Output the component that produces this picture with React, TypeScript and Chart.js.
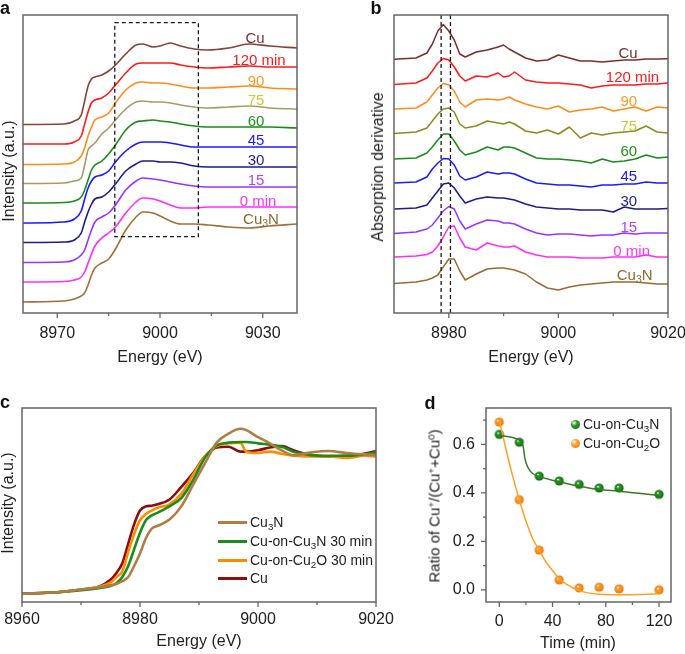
import React, { useEffect, useRef } from "react";
import { Chart, registerables } from "chart.js";
Chart.register(...registerables);

const W = 685;
const H = 654;
const XH = 40;
const FONT = "'Liberation Sans', Arial, Helvetica, sans-serif";

// ---------- Panel a : XANES spectra (stacked, a.u.) ----------
const aEnergy = [8960, 8972, 8975, 8977, 8978, 8979, 8980, 8981, 8983, 8985, 8987, 8990, 8993, 8995, 8998, 9000, 9003, 9006, 9010, 9014, 9020, 9026, 9032, 9040];
const aCu = [188.5, 189, 192, 198, 212, 227, 234, 236, 238, 242, 248, 259, 268, 269, 266, 267, 270, 267, 264, 263, 265, 269, 267, 265];
const a120 = [169, 169, 171, 177, 189, 201, 210, 213, 215, 220, 228, 240, 249, 250, 250, 250, 250, 248, 246, 245, 246, 247, 246, 246];
const a90 = [148.5, 149, 151, 157, 165, 177, 186, 193, 196, 200, 210, 223, 230, 231, 230, 230, 229, 227, 225, 225, 226, 227, 225, 224];
const a75 = [129.5, 130, 132, 135, 148, 163, 167, 170, 179, 185, 193, 204, 211, 212, 211, 211, 210, 208, 206, 205, 206, 207, 205, 204];
const a60 = [110, 110.5, 112, 116, 123, 133, 143, 148, 152, 159, 168, 183, 191, 192, 193, 192, 191, 189, 187, 186, 186, 186, 186, 185];
const a45 = [90, 91, 94, 102, 114, 125, 132, 136, 138, 142, 151, 162, 169, 171, 171, 171, 170, 168, 166, 166, 166, 166, 166, 166];
const a30 = [70.5, 71, 73, 80, 91, 101, 109, 114, 116, 121, 129, 142, 149, 152, 152, 151, 151, 150, 147, 146, 146, 146, 146, 146];
const a15 = [50.5, 51, 53, 58, 63, 73, 83, 91, 96, 100, 108, 123, 132, 135, 134, 133, 131, 129, 127, 126, 126, 126, 126, 126];
const a0 = [31, 31.5, 33, 36, 41, 50, 59, 67, 75, 80, 86, 100, 111, 115, 114, 112, 108, 105, 105, 106, 106, 106, 106, 106];
const aCu3N = [11, 12, 14, 17, 20, 28, 38, 45, 50, 54, 64, 83, 96, 101, 100, 97, 92, 89, 89, 88, 86, 85, 87, 89];
const aXMajor = [8970, 9000, 9030];
const aXMinor = [8985, 9015];
const aBoxEnergy = [8986.8, 9011.2];
const aBoxLevel = [76.3, 290.3];

// ---------- Panel b : absorption derivative (stacked, a.u.) ----------
const bEnergy = [8970, 8974, 8976, 8977, 8978, 8979, 8980, 8981, 8982, 8983, 8985, 8987, 8989, 8990, 8991, 8992, 8994, 8996, 8998, 9000, 9002, 9004, 9006, 9008, 9010, 9012, 9014, 9016, 9018, 9020];
const bCu = [253.7, 255, 260, 269, 282, 288.5, 282, 273, 259, 256, 261, 263, 266, 268, 264, 261, 255, 252, 253, 258, 255, 252, 252, 251, 252, 253, 253, 254, 254, 254.3];
const b120 = [228.5, 230, 235, 242, 250, 254.5, 253, 246, 237, 232, 237, 236, 240, 236, 237, 241, 233, 231, 230, 230, 229, 228, 225, 227, 228, 228, 228, 229, 229, 230];
const b90 = [204, 205, 211, 218, 225, 229.5, 228, 222, 211, 206, 213, 214, 213, 214, 216, 213, 209, 206, 204, 207, 201, 203, 204, 206, 202, 204, 206, 202, 206, 205];
const b75 = [179.5, 181, 185, 192, 199, 204, 205, 201, 189, 185, 187, 192, 190, 189, 191, 189, 182, 180, 183, 179, 186, 175, 180, 178, 180, 181, 182, 187, 181, 180];
const b60 = [154, 155, 160, 166, 173, 179, 179, 172, 163, 158, 161, 166, 163, 166, 166, 165, 160, 155, 154, 154, 153, 152, 150, 154, 151, 152, 154, 158, 155, 156];
const b45 = [130, 131, 136, 144, 150, 154.5, 154, 148, 137, 133, 136, 141, 139, 140, 140, 139, 134, 130, 129, 128, 128, 127, 126, 128, 128, 129, 129, 131, 130, 130];
const b30 = [104, 105, 108, 115, 122, 129, 130, 125, 117, 110, 114, 116, 115, 115, 114, 113, 109, 106, 105, 104, 104, 103, 103, 103, 101, 106, 104, 104, 104, 104.5];
const b15 = [79.5, 81, 84, 88, 95, 102, 106.5, 104, 92, 84, 89, 93, 92, 90, 90, 89, 84, 80, 78, 79, 79, 78, 77, 78, 78, 80, 79, 80, 80, 80];
const b0 = [56, 57, 58.5, 61, 67, 76, 86, 87, 75, 66, 63, 70, 67, 66, 66, 67, 61, 58, 56, 56, 56, 55, 55, 55, 56, 56, 56, 58, 56, 56];
const bCu3N = [29.5, 31, 33, 35, 38, 46, 54, 54, 42, 33, 39, 44, 45, 45, 44, 43, 39, 31, 25, 23, 26, 28, 29, 30, 31, 31, 31, 30, 29, 29];
const bXMajor = [8980, 9000, 9020];
const bXMinor = [8990, 9010];
const bMarkerEnergies = [8978.6, 8980.3];

// ---------- Panel c : normalized XANES ----------
const cEnergy = [8960, 8966, 8970, 8973, 8975, 8976, 8977, 8978, 8979, 8980, 8981, 8982, 8983, 8985, 8987, 8989, 8991, 8993, 8995, 8997, 8998, 9000, 9002, 9004, 9006, 9009, 9012, 9015, 9018, 9020];
const cCu3N = [0, 0.01, 0.03, 0.045, 0.06, 0.07, 0.09, 0.12, 0.2, 0.29, 0.4, 0.47, 0.49, 0.535, 0.63, 0.785, 0.94, 1.09, 1.155, 1.19, 1.18, 1.13, 1.085, 1.035, 1.0, 1.02, 1.03, 1.015, 1.005, 1.0];
const cCuOnCu3N = [0, 0.01, 0.025, 0.04, 0.055, 0.075, 0.12, 0.2, 0.32, 0.44, 0.53, 0.565, 0.585, 0.63, 0.69, 0.82, 0.98, 1.07, 1.09, 1.095, 1.095, 1.085, 1.075, 1.06, 1.025, 1.0, 0.995, 0.995, 1.005, 1.02];
const cCuOnCu2O = [0, 0.01, 0.03, 0.05, 0.08, 0.12, 0.16, 0.3, 0.43, 0.53, 0.575, 0.6, 0.62, 0.645, 0.72, 0.86, 0.99, 1.065, 1.085, 1.09, 1.025, 1.015, 1.025, 1.01, 0.995, 0.99, 0.99, 0.98, 0.995, 0.99];
const cCu = [0, 0.01, 0.03, 0.05, 0.1, 0.15, 0.22, 0.36, 0.5, 0.6, 0.63, 0.635, 0.645, 0.68, 0.77, 0.87, 0.99, 1.055, 1.06, 1.025, 1.025, 1.035, 1.055, 1.065, 1.035, 1.0, 0.99, 0.995, 1.01, 1.03];
const cXMajor = [8960, 8980, 9000, 9020];
const cXMinor = [8970, 8990, 9010];

// ---------- Panel d : Cu+ ratio vs time ----------
const dTime = [0, 15, 30, 45, 60, 75, 90, 120];
const dCuOnCu3N = [0.641, 0.609, 0.469, 0.449, 0.435, 0.42, 0.42, 0.394];
const dCuOnCu2O = [0.692, 0.372, 0.164, 0.041, 0.008, 0.011, 0.004, 0.0];
const dFitTimeN = [0, 10, 15, 17, 18, 19, 20, 22, 25, 30, 45, 60, 75, 90, 105, 120];
const dFitN = [0.637, 0.628, 0.618, 0.605, 0.59, 0.55, 0.525, 0.5, 0.48, 0.468, 0.445, 0.428, 0.414, 0.407, 0.398, 0.39];
const dFitTimeO = [0, 5, 10, 15, 20, 25, 30, 35, 40, 45, 50, 60, 75, 90, 105, 120];
const dFitO = [0.7, 0.58, 0.47, 0.372, 0.285, 0.212, 0.164, 0.115, 0.08, 0.046, 0.025, -0.003, -0.018, -0.02, -0.019, -0.016];
const dXMajor = [0, 40, 80, 120];
const dXMinor = [20, 60, 100];
const dYMajor = [0, 0.2, 0.4, 0.6];
const dYMinor = [0.1, 0.3, 0.5, 0.7];

// ---------- helpers ----------
function pts(xs: number[], ys: number[]) {
  return xs.map((x, i) => ({ x, y: ys[i] }));
}

function lineSet(xs: number[], ys: number[], color: string, width: number, smooth: boolean) {
  return {
    data: pts(xs, ys),
    borderColor: color,
    backgroundColor: color,
    borderWidth: width,
    pointRadius: 0,
    pointHoverRadius: 0,
    showLine: true,
    fill: false,
    tension: 0,
    cubicInterpolationMode: smooth ? "monotone" : "default",
    borderJoinStyle: "round",
    borderCapStyle: "round",
  };
}

function sphere(dark: string, mid: string, r: number) {
  const c = document.createElement("canvas");
  const s = Math.ceil(2 * r + 2);
  c.width = s;
  c.height = s;
  const g = c.getContext("2d")!;
  const cx = s / 2;
  const grad = g.createRadialGradient(cx - r * 0.3, cx - r * 0.35, r * 0.05, cx, cx, r);
  grad.addColorStop(0, "#ffffff");
  grad.addColorStop(0.28, mid);
  grad.addColorStop(1, dark);
  g.fillStyle = grad;
  g.beginPath();
  g.arc(cx, cx, r, 0, Math.PI * 2);
  g.fill();
  return c;
}

type FrameOpts = {
  xMajor: number[];
  xMinor: number[];
  yMajor?: number[];
  yMinor?: number[];
  vLines?: number[];
  box?: number[];
};

function framePlugin(o: FrameOpts) {
  return {
    id: "frame",
    afterDatasetsDraw(chart: any) {
      const { ctx, chartArea: a, scales } = chart;
      const xs = scales.x;
      const ys = scales.y;
      ctx.save();
      ctx.strokeStyle = "#1a1a1a";
      ctx.lineWidth = 1.3;
      ctx.setLineDash([4, 3]);
      (o.vLines || []).forEach((v) => {
        const p = xs.getPixelForValue(v);
        ctx.beginPath();
        ctx.moveTo(p, a.top);
        ctx.lineTo(p, a.bottom);
        ctx.stroke();
      });
      if (o.box) {
        const x0 = xs.getPixelForValue(o.box[0]);
        const x1 = xs.getPixelForValue(o.box[1]);
        const y0 = ys.getPixelForValue(o.box[2]);
        const y1 = ys.getPixelForValue(o.box[3]);
        ctx.strokeRect(x0, y1, x1 - x0, y0 - y1);
      }
      ctx.setLineDash([]);
      ctx.strokeStyle = "#666";
      ctx.lineWidth = 1.5;
      ctx.strokeRect(a.left, a.top, a.right - a.left, a.bottom - a.top);
      const seg = (x1: number, y1: number, x2: number, y2: number) => {
        ctx.beginPath();
        ctx.moveTo(x1, y1);
        ctx.lineTo(x2, y2);
        ctx.stroke();
      };
      ctx.lineWidth = 1.3;
      o.xMajor.forEach((v) => {
        const p = xs.getPixelForValue(v);
        seg(p, a.bottom, p, a.bottom + 5);
      });
      o.xMinor.forEach((v) => {
        const p = xs.getPixelForValue(v);
        seg(p, a.bottom, p, a.bottom + 3);
      });
      (o.yMajor || []).forEach((v) => {
        const p = ys.getPixelForValue(v);
        seg(a.left - 5, p, a.left, p);
      });
      (o.yMinor || []).forEach((v) => {
        const p = ys.getPixelForValue(v);
        seg(a.left - 3, p, a.left, p);
      });
      ctx.restore();
    },
  };
}

type Cfg = {
  area: [number, number, number, number];
  xRange: [number, number];
  yRange: [number, number];
  xTicks: number[];
  xPad: number;
  yTicks?: number[];
  yPad?: number;
  datasets: any[];
  frame: FrameOpts;
};

function makeConfig(p: Cfg): any {
  const [L, T, R, B] = p.area;
  const yw = p.yTicks ? 50 : 0;
  const tickFont = { family: FONT, size: 16 };
  return {
    type: "scatter",
    data: { datasets: p.datasets },
    plugins: [framePlugin(p.frame)],
    options: {
      responsive: false,
      animation: false,
      events: [],
      layout: { padding: { left: L - yw, top: T, right: W - R, bottom: H - B - XH } },
      plugins: { legend: { display: false }, tooltip: { enabled: false } },
      scales: {
        x: {
          type: "linear",
          min: p.xRange[0],
          max: p.xRange[1],
          grid: { display: false, drawTicks: false, tickLength: 0 },
          border: { display: false },
          afterBuildTicks: (s: any) => {
            s.ticks = p.xTicks.map((v) => ({ value: v }));
          },
          afterFit: (s: any) => {
            s.height = XH;
            s.paddingLeft = 0;
            s.paddingRight = 0;
          },
          ticks: {
            padding: p.xPad,
            color: "#222",
            font: tickFont,
            maxRotation: 0,
            autoSkip: false,
            callback: (v: any) => String(v),
          },
        },
        y: p.yTicks
          ? {
              type: "linear",
              min: p.yRange[0],
              max: p.yRange[1],
              grid: { display: false, drawTicks: false, tickLength: 0 },
              border: { display: false },
              afterBuildTicks: (s: any) => {
                s.ticks = p.yTicks!.map((v) => ({ value: v }));
              },
              afterFit: (s: any) => {
                s.width = yw;
                s.paddingTop = 0;
                s.paddingBottom = 0;
              },
              ticks: {
                padding: p.yPad,
                color: "#222",
                font: tickFont,
                autoSkip: false,
                callback: (v: any) => Number(v).toFixed(1),
              },
            }
          : { type: "linear", display: false, min: p.yRange[0], max: p.yRange[1] },
      },
    },
  };
}

function ChartLayer({ make }: { make: () => any }) {
  const ref = useRef<HTMLCanvasElement>(null);
  useEffect(() => {
    const chart = new Chart(ref.current as HTMLCanvasElement, make());
    return () => chart.destroy();
  }, []);
  return (
    <canvas
      ref={ref}
      width={W}
      height={H}
      style={{ position: "absolute", left: 0, top: 0, width: W, height: H }}
    />
  );
}

const configA = () =>
  makeConfig({
    area: [23, 15, 297, 313],
    xRange: [8960, 9040],
    yRange: [0, 298],
    xTicks: aXMajor,
    xPad: 11,
    frame: { xMajor: aXMajor, xMinor: aXMinor, box: [aBoxEnergy[0], aBoxEnergy[1], aBoxLevel[0], aBoxLevel[1]] },
    datasets: [
      lineSet(aEnergy, aCu3N, "#a0703a", 1.6, true),
      lineSet(aEnergy, a0, "#ff2cff", 1.6, true),
      lineSet(aEnergy, a15, "#9933ff", 1.6, true),
      lineSet(aEnergy, a30, "#1c1c8c", 1.6, true),
      lineSet(aEnergy, a45, "#1a1aff", 1.6, true),
      lineSet(aEnergy, a60, "#1a8a1a", 1.6, true),
      lineSet(aEnergy, a75, "#a89c62", 1.6, true),
      lineSet(aEnergy, a90, "#ff8c1a", 1.6, true),
      lineSet(aEnergy, a120, "#ff1a1a", 1.6, true),
      lineSet(aEnergy, aCu, "#84443a", 1.6, true),
    ],
  });

const configB = () =>
  makeConfig({
    area: [394, 15, 668, 313],
    xRange: [8970, 9020],
    yRange: [0, 298],
    xTicks: bXMajor,
    xPad: 11,
    frame: { xMajor: bXMajor, xMinor: bXMinor, vLines: bMarkerEnergies },
    datasets: [
      lineSet(bEnergy, bCu3N, "#9a6a30", 1.5, false),
      lineSet(bEnergy, b0, "#ff2cff", 1.5, false),
      lineSet(bEnergy, b15, "#9933ff", 1.5, false),
      lineSet(bEnergy, b30, "#1c1c8c", 1.5, false),
      lineSet(bEnergy, b45, "#1a1aff", 1.5, false),
      lineSet(bEnergy, b60, "#1a8a1a", 1.5, false),
      lineSet(bEnergy, b75, "#8a8a1e", 1.5, false),
      lineSet(bEnergy, b90, "#ff8c1a", 1.5, false),
      lineSet(bEnergy, b120, "#ff1a1a", 1.5, false),
      lineSet(bEnergy, bCu, "#7a2e2a", 1.5, false),
    ],
  });

const configC = () =>
  makeConfig({
    area: [22, 408, 376, 602],
    xRange: [8960, 9020],
    yRange: [-0.06, 1.34],
    xTicks: cXMajor,
    xPad: 8,
    frame: { xMajor: cXMajor, xMinor: cXMinor },
    datasets: [
      lineSet(cEnergy, cCu3N, "#b07d45", 2.6, true),
      lineSet(cEnergy, cCuOnCu3N, "#1a8c1a", 2.6, true),
      lineSet(cEnergy, cCuOnCu2O, "#ff8c00", 2.6, true),
      lineSet(cEnergy, cCu, "#8b0e0e", 2.6, true),
    ],
  });

const configD = () => {
  const greenBall = sphere("#0f6a0f", "#2a9a2a", 4.6);
  const orangeBall = sphere("#e87800", "#ff9d30", 4.6);
  return makeConfig({
    area: [486, 408, 671, 602],
    xRange: [-10, 129],
    yRange: [-0.05, 0.75],
    xTicks: dXMajor,
    xPad: 10,
    yTicks: dYMajor,
    yPad: 11,
    frame: { xMajor: dXMajor, xMinor: dXMinor, yMajor: dYMajor, yMinor: dYMinor },
    datasets: [
      lineSet(dFitTimeN, dFitN, "#3a7a22", 1.5, true),
      lineSet(dFitTimeO, dFitO, "#ffa02a", 1.5, true),
      {
        data: pts(dTime, dCuOnCu3N),
        showLine: false,
        pointStyle: greenBall,
        pointRadius: 5,
        pointHoverRadius: 5,
      },
      {
        data: pts(dTime, dCuOnCu2O),
        showLine: false,
        pointStyle: orangeBall,
        pointRadius: 5,
        pointHoverRadius: 5,
      },
    ],
  });
};

// ---------- text overlays ----------
function Txt(props: {
  x: number;
  y: number;
  color?: string;
  size?: number;
  bold?: boolean;
  rotate?: boolean;
  align?: "center" | "left";
  children: any;
}) {
  const { x, y, color = "#222", size = 16, bold = false, rotate = false, align = "center", children } = props;
  const transform = rotate
    ? "translate(-50%,-50%) rotate(-90deg)"
    : align === "left"
    ? "translate(0,-50%)"
    : "translate(-50%,-50%)";
  return (
    <div
      style={{
        position: "absolute",
        left: x,
        top: y,
        transform,
        whiteSpace: "nowrap",
        fontSize: size,
        fontWeight: bold ? "bold" : "normal",
        color,
        lineHeight: 1,
      }}
    >
      {children}
    </div>
  );
}

const Sub = ({ children }: { children: any }) => (
  <span style={{ fontSize: "0.7em", position: "relative", top: "0.3em" }}>{children}</span>
);
const Sup = ({ children }: { children: any }) => (
  <span style={{ fontSize: "0.65em", position: "relative", top: "-0.5em" }}>{children}</span>
);

const cu3n = (
  <>
    Cu<Sub>3</Sub>N
  </>
);

const seriesLabels = [
  { text: "Cu", color: "#7a2e2e" },
  { text: "120 min", color: "#ff1a1a" },
  { text: "90", color: "#ff9922" },
  { text: "75", color: "#cccc30" },
  { text: "60", color: "#1a961a" },
  { text: "45", color: "#1a1aff" },
  { text: "30", color: "#1c1c8c" },
  { text: "15", color: "#aa44ff" },
  { text: "0 min", color: "#ff33ff" },
  { text: "Cu3N", color: "#8c6a2a" },
];
const aLabelPos = [
  [255, 36.7], [259, 59.3], [256, 80], [256, 99], [256, 120],
  [256, 139.3], [256, 159], [256, 179.3], [258, 200], [261, 217.7],
];
const bLabelPos = [
  [628, 51.7], [632.5, 76], [628.8, 100], [628.8, 125], [628.8, 150],
  [628.8, 175], [628.8, 200], [628.8, 226], [631.7, 250], [634.7, 274],
];

const cLegend = [
  { label: cu3n, color: "#b07d45" },
  { label: <>Cu-on-Cu<Sub>3</Sub>N 30 min</>, color: "#1a8c1a" },
  { label: <>Cu-on-Cu<Sub>2</Sub>O 30 min</>, color: "#ff8c00" },
  { label: <>Cu</>, color: "#8b0e0e" },
];
const cLegendY = [522, 541, 560, 578];

export default function App() {
  return (
    <div
      style={{
        position: "absolute",
        left: 0,
        top: 0,
        width: W,
        height: H,
        overflow: "hidden",
        background: "#fff",
        fontFamily: FONT,
        color: "#222",
      }}
    >
      <ChartLayer make={configA} />
      <ChartLayer make={configB} />
      <ChartLayer make={configC} />
      <ChartLayer make={configD} />

      {/* panel letters */}
      <Txt x={5} y={8} size={18} bold color="#111">a</Txt>
      <Txt x={376} y={8} size={18} bold color="#111">b</Txt>
      <Txt x={5} y={402} size={18} bold color="#111">c</Txt>
      <Txt x={430} y={403} size={18} bold color="#111">d</Txt>

      {/* axis titles */}
      <Txt x={9} y={171} rotate>Intensity (a.u.)</Txt>
      <Txt x={160} y={357}>Energy (eV)</Txt>
      <Txt x={378} y={167} rotate>Absorption derivative</Txt>
      <Txt x={531} y={357}>Energy (eV)</Txt>
      <Txt x={8} y={503} rotate>Intensity (a.u.)</Txt>
      <Txt x={199} y={641}>Energy (eV)</Txt>
      <Txt x={434} y={506} rotate size={15}>
        Ratio of Cu<Sup>+</Sup>/(Cu<Sup>+</Sup>+Cu<Sup>0</Sup>)
      </Txt>
      <Txt x={578} y={643}>Time (min)</Txt>

      {/* series labels a & b */}
      {seriesLabels.map((s, i) => (
        <Txt key={"a" + i} x={aLabelPos[i][0]} y={aLabelPos[i][1]} size={15} color={s.color}>
          {s.text === "Cu3N" ? cu3n : s.text}
        </Txt>
      ))}
      {seriesLabels.map((s, i) => (
        <Txt key={"b" + i} x={bLabelPos[i][0]} y={bLabelPos[i][1]} size={15} color={s.color}>
          {s.text === "Cu3N" ? cu3n : s.text}
        </Txt>
      ))}

      {/* legend c */}
      {cLegend.map((l, i) => (
        <React.Fragment key={"c" + i}>
          <div
            style={{
              position: "absolute",
              left: 218,
              top: cLegendY[i] - 1.5,
              width: 29,
              height: 3,
              background: l.color,
            }}
          />
          <Txt x={250} y={cLegendY[i]} size={14} align="left">
            {l.label}
          </Txt>
        </React.Fragment>
      ))}

      {/* legend d */}
      {[
        { label: <>Cu-on-Cu<Sub>3</Sub>N</>, y: 424, bg: "radial-gradient(circle at 35% 32%, #fff 0%, #2a9a2a 35%, #0f6a0f 100%)" },
        { label: <>Cu-on-Cu<Sub>2</Sub>O</>, y: 443, bg: "radial-gradient(circle at 35% 32%, #fff 0%, #ff9d30 35%, #e87800 100%)" },
      ].map((l, i) => (
        <React.Fragment key={"d" + i}>
          <div
            style={{
              position: "absolute",
              left: 575 - 4.5,
              top: l.y - 4.5,
              width: 9,
              height: 9,
              borderRadius: "50%",
              background: l.bg,
            }}
          />
          <Txt x={583} y={l.y} size={14} align="left">
            {l.label}
          </Txt>
        </React.Fragment>
      ))}
    </div>
  );
}
